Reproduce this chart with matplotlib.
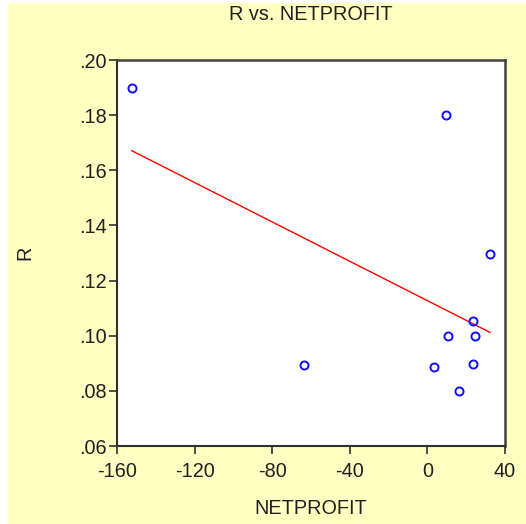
import matplotlib
matplotlib.use("Agg")
import matplotlib.pyplot as plt
from matplotlib.patches import Rectangle
import numpy as np

netprofit = [-152.4, 9.6, 32.2, 23.6, 10.5, 24.5, -63.5, 3.6, 23.6, 16.5]
r_values = [0.190, 0.180, 0.1297, 0.1052, 0.100, 0.100, 0.0893, 0.0887, 0.0899, 0.080]
x_ticks = [-160, -120, -80, -40, 0, 40]
y_ticks = [0.06, 0.08, 0.10, 0.12, 0.14, 0.16, 0.18, 0.20]
y_tick_labels = [".06", ".08", ".10", ".12", ".14", ".16", ".18", ".20"]
title = "R vs. NETPROFIT"
x_label = "NETPROFIT"
y_label = "R"

plt.rcParams['font.family'] = ['Liberation Sans', 'DejaVu Sans']
bg = '#FFFFC2'
fs = 14.3

fig = plt.figure(figsize=(5.26, 5.24), dpi=100, facecolor='white')
fig.patches.append(Rectangle((8 / 526, 0), 1 - 8 / 526, 1 - 3 / 524,
                             transform=fig.transFigure, facecolor=bg,
                             edgecolor='none', zorder=-10))
ax = fig.add_axes([117 / 526, 1 - 446 / 524, (505 - 117) / 526, (446 - 60) / 524])
ax.set_facecolor('white')

x = np.array(netprofit)
y = np.array(r_values)
ax.plot(x, y, linestyle='none', marker='o', markersize=5.8,
        markerfacecolor='none', markeredgecolor='#1010FF', markeredgewidth=1.4,
        zorder=3)
slope, intercept = np.polyfit(x, y, 1)
xl = np.array([x.min(), x.max()])
ax.plot(xl, slope * xl + intercept, color='#FF0000', linewidth=1.0, zorder=2)

ax.set_xlim(-160, 40)
ax.set_ylim(0.06, 0.20)
ax.set_xticks(x_ticks)
ax.set_xticklabels([str(t) for t in x_ticks])
ax.set_yticks(y_ticks)
ax.set_yticklabels(y_tick_labels)
ax.tick_params(axis='both', direction='out', length=5.5, width=1.2,
               color='#303030', labelsize=fs, labelcolor='#202020')
ax.tick_params(axis='x', pad=6)
ax.tick_params(axis='y', pad=2)
for side in ['left', 'bottom']:
    ax.spines[side].set_color('#303030')
    ax.spines[side].set_linewidth(1.5)
for side in ['top', 'right']:
    ax.spines[side].set_color('#404040')
    ax.spines[side].set_linewidth(1.8)

fig.text(311 / 526, 1 - 15 / 524, title, ha='center', va='center',
         fontsize=fs, color='#202020')
fig.text(311 / 526, 1 - 508 / 524, x_label, ha='center', va='center',
         fontsize=fs, color='#202020')
fig.text(25 / 526, 1 - 253 / 524, y_label, ha='center', va='center',
         fontsize=fs, color='#202020', rotation=90)

fig.savefig('out.png', dpi=100, facecolor=fig.get_facecolor())
